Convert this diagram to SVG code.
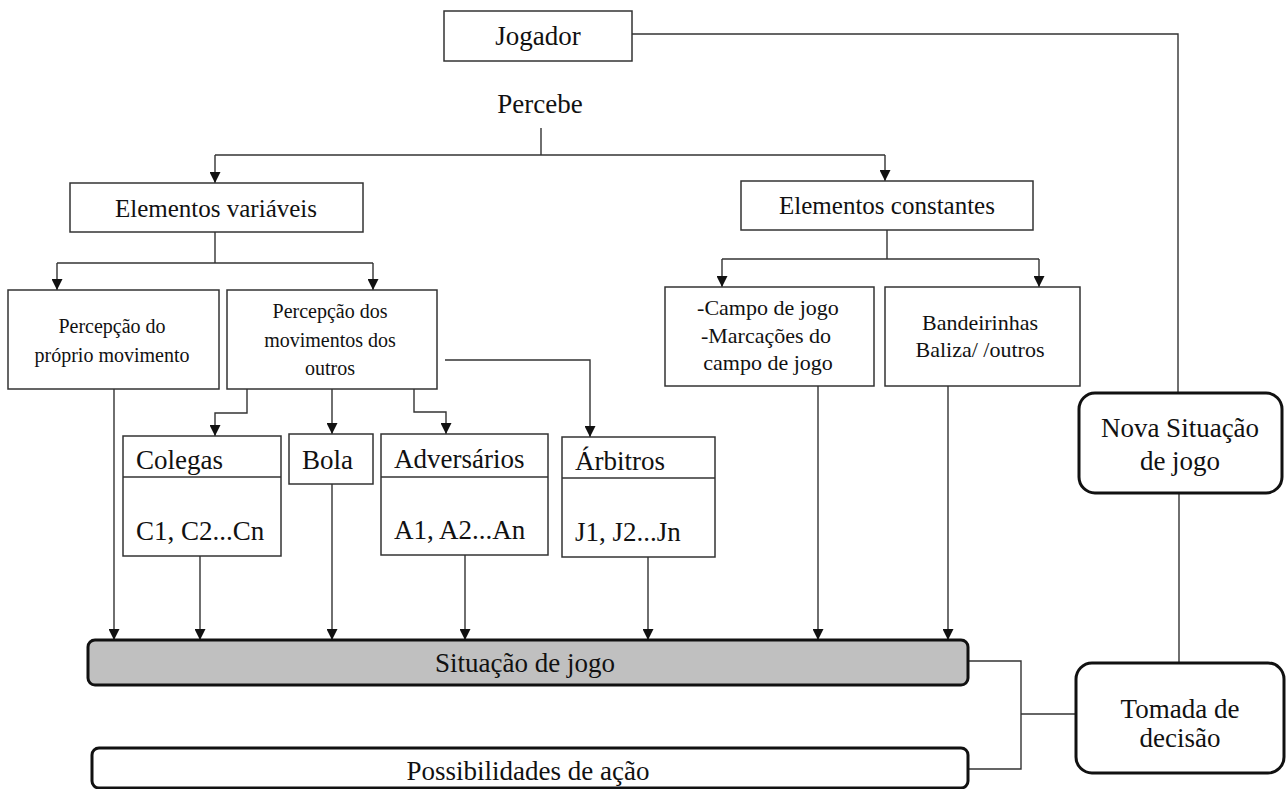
<svg xmlns="http://www.w3.org/2000/svg" width="1286" height="789" viewBox="0 0 1286 789">
<style>
.box{fill:#fff;stroke:#333;stroke-width:1.5}
.rbox{fill:#fff;stroke:#111;stroke-width:3}
.gbox{fill:#c0c0c0;stroke:#111;stroke-width:3}
.ln{fill:none;stroke:#333;stroke-width:1.4}
.arr{fill:none;stroke:#333;stroke-width:1.4;marker-end:url(#ah)}
text{font-family:"Liberation Serif","Times New Roman",serif;fill:#111;text-anchor:middle}
.t27{font-size:27px}
.t25{font-size:25px}
.t20{font-size:20px}
.t22{font-size:22px}
.l{text-anchor:start}
</style>
<defs>
<marker id="ah" viewBox="0 0 12 12" refX="12" refY="6" markerWidth="12" markerHeight="11" markerUnits="userSpaceOnUse" orient="auto">
<path d="M0,0 L12,6 L0,12 z" fill="#111"/>
</marker>
</defs>
<rect width="1286" height="789" fill="#fff"/>
<g id="connectors">
<polyline class="ln" points="632,34 1178,34 1178,393"/>
<line class="ln" x1="541" y1="128" x2="541" y2="155"/>
<line class="ln" x1="215" y1="155" x2="885" y2="155"/>
<line class="arr" x1="215" y1="155" x2="215" y2="183"/>
<line class="arr" x1="885" y1="155" x2="885" y2="181"/>
<line class="ln" x1="215" y1="232" x2="215" y2="263"/>
<line class="ln" x1="57" y1="263" x2="373" y2="263"/>
<line class="arr" x1="57" y1="263" x2="57" y2="290"/>
<line class="arr" x1="373" y1="263" x2="373" y2="290"/>
<line class="ln" x1="887" y1="230" x2="887" y2="259"/>
<line class="ln" x1="722" y1="259" x2="1039" y2="259"/>
<line class="arr" x1="722" y1="259" x2="722" y2="287"/>
<line class="arr" x1="1039" y1="259" x2="1039" y2="287"/>
<polyline class="arr" points="247,389 247,413 215,413 215,436"/>
<line class="arr" x1="332" y1="389" x2="332" y2="434"/>
<polyline class="arr" points="414,389 414,412 446,412 446,434"/>
<polyline class="arr" points="445,360 590,360 590,437"/>
<line class="arr" x1="114" y1="389" x2="114" y2="640"/>
<line class="arr" x1="200" y1="556" x2="200" y2="640"/>
<line class="arr" x1="332" y1="484" x2="332" y2="640"/>
<line class="arr" x1="465" y1="555" x2="465" y2="640"/>
<line class="arr" x1="648" y1="557" x2="648" y2="640"/>
<line class="arr" x1="818" y1="386" x2="818" y2="640"/>
<line class="arr" x1="948" y1="386" x2="948" y2="640"/>
<polyline class="ln" points="968,661 1021,661 1021,769 968,769"/>
<line class="ln" x1="1021" y1="714" x2="1076" y2="714"/>
<line class="ln" x1="1179" y1="493" x2="1179" y2="662"/>
</g>
<g id="jogador">
<rect class="box" x="444" y="11" width="188" height="50"/>
<text class="t27" x="538" y="45">Jogador</text>
</g>
<g id="percebe">
<text class="t27" x="540" y="113">Percebe</text>
</g>
<g id="elementos-variaveis">
<rect class="box" x="70" y="183" width="293" height="49"/>
<text class="t25" x="216" y="217">Elementos variáveis</text>
</g>
<g id="elementos-constantes">
<rect class="box" x="741" y="181" width="292" height="49"/>
<text class="t25" x="887" y="214">Elementos constantes</text>
</g>
<g id="proprio-movimento">
<rect class="box" x="8" y="290" width="211" height="99"/>
<text class="t20" x="112" y="333">Percepção do</text>
<text class="t20" x="112" y="362">próprio movimento</text>
</g>
<g id="movimentos-outros">
<rect class="box" x="227" y="290" width="210" height="99"/>
<text class="t20" x="330" y="318">Percepção dos</text>
<text class="t20" x="330" y="347">movimentos dos</text>
<text class="t20" x="330" y="375">outros</text>
</g>
<g id="campo">
<rect class="box" x="665" y="287" width="209" height="99"/>
<text class="t22" x="768" y="315">-Campo de jogo</text>
<text class="t22" x="766" y="343">-Marcações do</text>
<text class="t22" x="768" y="370">campo de jogo</text>
</g>
<g id="bandeirinhas">
<rect class="box" x="885" y="287" width="195" height="99"/>
<text class="t22" x="980" y="330">Bandeirinhas</text>
<text class="t22" x="980" y="357">Baliza/ /outros</text>
</g>
<g id="colegas">
<rect class="box" x="123" y="436" width="158" height="120"/>
<line class="box" x1="123" y1="477" x2="281" y2="477"/>
<text class="t27 l" x="136" y="469">Colegas</text>
<text class="t27 l" x="136" y="540">C1, C2...Cn</text>
</g>
<g id="bola">
<rect class="box" x="289" y="434" width="84" height="50"/>
<text class="t27 l" x="302" y="469">Bola</text>
</g>
<g id="adversarios">
<rect class="box" x="381" y="434" width="167" height="121"/>
<line class="box" x1="381" y1="477" x2="548" y2="477"/>
<text class="t27 l" x="394" y="468">Adversários</text>
<text class="t27 l" x="394" y="539">A1, A2...An</text>
</g>
<g id="arbitros">
<rect class="box" x="562" y="437" width="153" height="120"/>
<line class="box" x1="562" y1="478" x2="715" y2="478"/>
<text class="t27 l" x="575" y="470">Árbitros</text>
<text class="t27 l" x="575" y="541">J1, J2...Jn</text>
</g>
<g id="situacao">
<rect class="gbox" x="88" y="640" width="880" height="45" rx="7"/>
<text class="t27" x="525" y="672">Situação de jogo</text>
</g>
<g id="possibilidades">
<rect class="rbox" x="92" y="748" width="876" height="40" rx="7"/>
<text class="t27" x="528" y="780">Possibilidades de ação</text>
</g>
<g id="nova-situacao">
<rect class="rbox" x="1079" y="393" width="203" height="100" rx="16"/>
<text class="t27" x="1180" y="437">Nova Situação</text>
<text class="t27" x="1180" y="470">de jogo</text>
</g>
<g id="tomada">
<rect class="rbox" x="1076" y="663" width="208" height="110" rx="16"/>
<text class="t27" x="1180" y="718">Tomada de</text>
<text class="t27" x="1180" y="747">decisão</text>
</g>
</svg>
